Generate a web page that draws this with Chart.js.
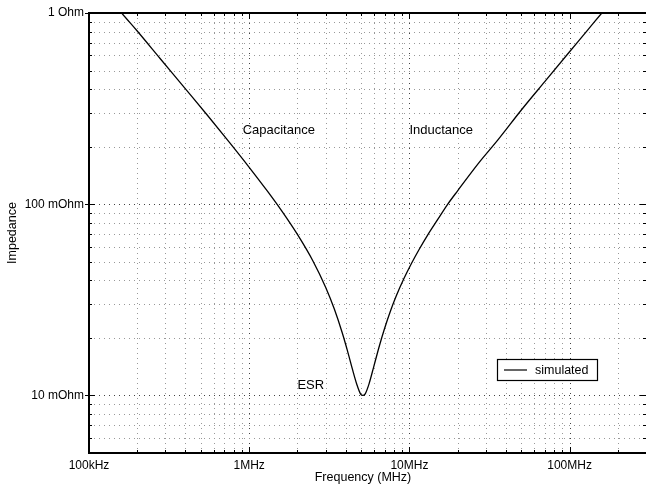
<!DOCTYPE html>
<html>
<head>
<meta charset="utf-8">
<script src="https://cdn.jsdelivr.net/npm/chart.js@4/dist/chart.umd.min.js"></script>
<style>
  html, body { margin: 0; padding: 0; background: #fff; overflow: hidden; }
</style>
</head>
<body>
<canvas id="graf" width="646" height="484"></canvas>
<script>
// pontos (frequencia em Hz, impedancia em Ohm)
const freqHz = [
  140e3, 160e3, 200e3, 277e3, 400e3, 550e3, 755e3, 1.0e6, 1.3e6, 1.6e6,
  2.0e6, 2.5e6, 3.0e6, 3.4e6, 3.8e6, 4.1e6, 4.4e6, 4.7e6, 4.95e6, 5.12e6,
  5.3e6, 5.6e6, 6.0e6, 6.5e6, 7.0e6, 7.6e6, 8.3e6, 9.2e6, 10.3e6, 11.5e6,
  13e6, 15e6, 17.2e6, 20e6, 27.2e6, 35.7e6, 50e6, 70e6, 100e6, 130e6,
  159e6, 180e6
];
const impedanceOhm = [
  1.15, 1.0, 0.805, 0.58, 0.401, 0.291, 0.21, 0.156, 0.117, 0.092,
  0.0695, 0.0505, 0.0368, 0.0283, 0.0214, 0.0172, 0.0138, 0.0114, 0.0102, 0.0100,
  0.0102, 0.0115, 0.0142, 0.0182, 0.0224, 0.0275, 0.0333, 0.0405, 0.049, 0.058,
  0.069, 0.083, 0.099, 0.1175, 0.165, 0.217, 0.311, 0.4375, 0.627, 0.816,
  1.0, 1.13
];

const xTickValues = [1e5, 1e6, 1e7, 1e8];
const xTickLabels = ['100kHz', '1MHz', '10MHz', '100MHz'];
const yTickValues = [0.01, 0.1, 1];
const yTickLabels = ['10 mOhm', '100 mOhm', '1 Ohm'];

// textos no grafico (posicao em coordenadas de dados)
const noteTexts = ['Capacitance', 'Inductance', 'ESR'];
const noteFreq = [0.91e6, 10e6, 2.0e6];
const noteImp = [0.242, 0.242, 0.0113];

const X_MIN = 1e5, X_MAX = 3e8, Y_MIN = 0.005, Y_MAX = 1;
const FAMILY = "'Liberation Sans', Arial, sans-serif";

// linhas de grade 1..9 por decada
function gradeLog(min, max) {
  const out = [];
  for (let e = Math.floor(Math.log10(min)); e <= Math.ceil(Math.log10(max)); e++) {
    for (let m = 1; m <= 9; m++) {
      const v = m * Math.pow(10, e);
      if (v >= min * 0.999 && v <= max * 1.001) out.push({ v, major: m === 1 });
    }
  }
  return out;
}

const gradePlugin = {
  id: 'grade',
  beforeDatasetsDraw(chart) {
    const { ctx, chartArea: a, scales: { x, y } } = chart;
    ctx.save();
    ctx.lineWidth = 1;
    ctx.setLineDash([1, 4]);
    gradeLog(X_MIN, X_MAX).forEach(g => {
      const px = Math.round(x.getPixelForValue(g.v)) + 0.5;
      ctx.strokeStyle = g.major ? '#444' : '#999';
      ctx.beginPath(); ctx.moveTo(px, a.top); ctx.lineTo(px, a.bottom); ctx.stroke();
    });
    gradeLog(Y_MIN, Y_MAX).forEach(g => {
      const py = Math.round(y.getPixelForValue(g.v)) + 0.5;
      ctx.strokeStyle = g.major ? '#444' : '#999';
      ctx.beginPath(); ctx.moveTo(a.left, py); ctx.lineTo(a.right, py); ctx.stroke();
    });
    ctx.restore();
  },
  afterDatasetsDraw(chart) {
    const { ctx, chartArea: a, scales: { x, y } } = chart;
    ctx.save();
    ctx.setLineDash([]);
    ctx.strokeStyle = '#000';
    ctx.lineWidth = 1;

    // marcas nos eixos
    gradeLog(X_MIN, X_MAX).forEach(g => {
      const px = Math.round(x.getPixelForValue(g.v)) + 0.5;
      const len = g.major ? 6 : 3;
      ctx.beginPath();
      ctx.moveTo(px, a.bottom); ctx.lineTo(px, a.bottom - len);
      ctx.moveTo(px, a.top); ctx.lineTo(px, a.top + len);
      ctx.stroke();
    });
    gradeLog(Y_MIN, Y_MAX).forEach(g => {
      const py = Math.round(y.getPixelForValue(g.v)) + 0.5;
      const len = g.major ? 6 : 3;
      ctx.beginPath();
      ctx.moveTo(a.left - (g.major ? 4 : 0), py); ctx.lineTo(a.left + len, py);
      ctx.moveTo(a.right, py); ctx.lineTo(a.right - len, py);
      ctx.stroke();
    });

    // moldura
    ctx.lineWidth = 2;
    ctx.strokeRect(a.left, a.top, a.right - a.left + 2, a.bottom - a.top);

    // textos
    ctx.fillStyle = '#000';
    ctx.font = '13px ' + FAMILY;
    ctx.textBaseline = 'middle';
    ctx.textAlign = 'left';
    noteTexts.forEach((t, i) => {
      ctx.fillText(t, x.getPixelForValue(noteFreq[i]), y.getPixelForValue(noteImp[i]));
    });

    // legenda
    ctx.fillStyle = '#fff';
    ctx.fillRect(497, 359, 101, 22);
    ctx.lineWidth = 1.2;
    ctx.strokeRect(497.5, 359.5, 100, 21);
    ctx.beginPath(); ctx.moveTo(504, 370); ctx.lineTo(527, 370); ctx.stroke();
    ctx.fillStyle = '#000';
    ctx.font = '12.5px ' + FAMILY;
    ctx.fillText('simulated', 535, 370.5);

    // titulos dos eixos
    ctx.font = '12.5px ' + FAMILY;
    ctx.textAlign = 'center';
    ctx.fillText('Frequency (MHz)', 363, 478);
    ctx.translate(13, 233);
    ctx.rotate(-Math.PI / 2);
    ctx.fillText('Impedance', 0, 0);
    ctx.restore();
  }
};

new Chart(document.getElementById('graf'), {
  type: 'line',
  data: {
    datasets: [{
      label: 'simulated',
      data: freqHz.map((f, i) => ({ x: f, y: impedanceOhm[i] })),
      borderColor: '#000',
      borderWidth: 1.3,
      pointRadius: 0,
      cubicInterpolationMode: 'monotone',
      fill: false
    }]
  },
  options: {
    responsive: false,
    devicePixelRatio: 1,
    animation: false,
    layout: { padding: { top: 13, right: 0, left: 0, bottom: 0 } },
    plugins: { legend: { display: false }, tooltip: { enabled: false } },
    scales: {
      x: {
        type: 'logarithmic',
        min: X_MIN, max: X_MAX,
        grid: { display: false, drawTicks: false },
        border: { display: false },
        afterBuildTicks: (s) => { s.ticks = xTickValues.map(v => ({ value: v })); },
        afterFit: (s) => { s.height = 31; },
        ticks: {
          autoSkip: false, maxRotation: 0, padding: 5,
          color: '#000', font: { family: FAMILY, size: 12 },
          callback: (v, i) => xTickLabels[i]
        }
      },
      y: {
        type: 'logarithmic',
        min: Y_MIN, max: Y_MAX,
        grid: { display: false, drawTicks: false },
        border: { display: false },
        afterBuildTicks: (s) => { s.ticks = yTickValues.map(v => ({ value: v })); },
        afterFit: (s) => { s.width = 89; },
        ticks: {
          autoSkip: false, padding: 5,
          color: '#000', font: { family: FAMILY, size: 12 },
          callback: (v, i) => yTickLabels[i]
        }
      }
    }
  },
  plugins: [gradePlugin]
});
</script>
</body>
</html>
